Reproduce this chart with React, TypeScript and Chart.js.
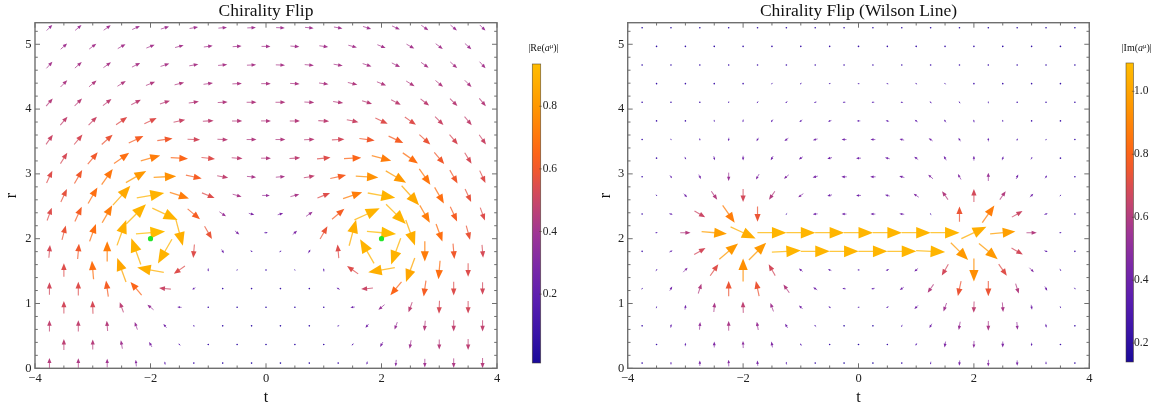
import { useEffect, useRef } from "react";
import { Chart, registerables } from "chart.js";
Chart.register(...registerables);

// ---------- data ----------
const X_TICKS = [-4, -2, 0, 2, 4];
const Y_TICKS = [0, 1, 2, 3, 4, 5];
const CB_TICKS_RE = [0.2, 0.4, 0.6, 0.8];
const CB_TICKS_IM = [0.2, 0.4, 0.6, 0.8, 1.0];

const T_EVEN = [-3.75, -3.25, -2.75, -2.25, -1.75, -1.25, -0.75, -0.25, 0.25, 0.75, 1.25, 1.75, 2.25, 2.75, 3.25, 3.75];
const T_ODD = [-3.5, -3, -2.5, -2, -1.5, -1, -0.5, 0, 0.5, 1, 1.5, 2, 2.5, 3, 3.5];
const R_ROWS = [0.08, 0.3675, 0.655, 0.9425, 1.23, 1.5175, 1.805, 2.0925, 2.38, 2.6675, 2.955, 3.2425, 3.53, 3.8175, 4.105, 4.3925, 4.68, 4.9675, 5.255];

const GREEN_POINTS = [[-2, 2], [2, 2]];

// |Re(a)| field: arrow direction (deg, screen, ccw from +t) and magnitude
const RE_ANGLE = [
  [90, 90, 90, 95, 100, 110, 120, 120, -120, -120, -110, -100, -95, -90, -90, -90],
  [90, 90, 100, 120, 140, 160, 170, 180, -170, -160, -140, -120, -100, -90, -90],
  [90, 90, 95, 110, 130, 160, 180, 180, 180, 180, -160, -130, -110, -95, -90, -90],
  [90, 92, 110, 140, 175, -170, -160, 180, 160, 170, -175, -140, -110, -92, -90],
  [90, 90, 98, 130, 175, -150, -150, -160, 160, 150, 150, -175, -130, -98, -90, -90],
  [90, 95, 110, 170, -145, -95, -120, 180, 120, 95, 145, -170, -110, -95, -90],
  [85, 85, 90, 110, -120, -95, -60, -30, 30, 60, 95, 120, -110, -90, -85, -85],
  [75, 70, 70, 5, -75, -60, -40, 0, 40, 60, 75, -5, -70, -70, -75],
  [70, 65, 60, 45, -25, -40, -35, -15, 15, 35, 40, 25, -45, -60, -65, -70],
  [65, 60, 48, 10, -18, -22, -15, 0, 15, 22, 18, -10, -48, -60, -65],
  [65, 60, 55, 30, 3, -12, -10, -5, 5, 10, 12, -3, -30, -55, -60, -65],
  [58, 50, 35, 15, -3, -6, -4, 0, 4, 6, 3, -15, -35, -50, -58],
  [55, 50, 42, 25, 8, -3, -3, 0, 0, 3, 3, -8, -25, -42, -50, -55],
  [50, 45, 35, 25, 12, 3, 0, 0, 0, -3, -12, -25, -35, -45, -50],
  [50, 45, 38, 28, 18, 8, 3, 0, 0, -3, -8, -18, -28, -38, -45, -50],
  [45, 40, 32, 22, 14, 8, 3, 0, -3, -8, -14, -22, -32, -40, -45],
  [48, 42, 35, 27, 18, 10, 5, 2, -2, -5, -10, -18, -27, -35, -42, -48],
  [42, 37, 30, 22, 15, 8, 4, 0, -4, -8, -15, -22, -30, -37, -42],
  [45, 40, 35, 25, 18, 10, 5, 2, -2, -5, -10, -18, -25, -35, -40, -45],
];
const RE_MAG = [
  [0.45, 0.43, 0.40, 0.33, 0.20, 0.10, 0.05, 0.02, 0.02, 0.05, 0.10, 0.20, 0.33, 0.40, 0.43, 0.45],
  [0.47, 0.45, 0.40, 0.30, 0.18, 0.08, 0.05, 0.03, 0.05, 0.08, 0.18, 0.30, 0.40, 0.45, 0.47],
  [0.48, 0.48, 0.45, 0.38, 0.27, 0.15, 0.07, 0.04, 0.04, 0.07, 0.15, 0.27, 0.38, 0.45, 0.48, 0.48],
  [0.52, 0.53, 0.47, 0.38, 0.25, 0.10, 0.06, 0.05, 0.06, 0.10, 0.25, 0.38, 0.47, 0.53, 0.52],
  [0.52, 0.55, 0.62, 0.65, 0.50, 0.22, 0.10, 0.08, 0.08, 0.10, 0.22, 0.50, 0.65, 0.62, 0.55, 0.52],
  [0.55, 0.68, 0.85, 0.88, 0.55, 0.20, 0.12, 0.10, 0.12, 0.20, 0.55, 0.88, 0.85, 0.68, 0.55],
  [0.53, 0.60, 0.72, 0.90, 0.90, 0.55, 0.25, 0.17, 0.17, 0.25, 0.55, 0.90, 0.90, 0.72, 0.60, 0.53],
  [0.58, 0.68, 0.88, 0.93, 0.88, 0.58, 0.30, 0.22, 0.30, 0.58, 0.88, 0.93, 0.88, 0.68, 0.58],
  [0.55, 0.62, 0.72, 0.90, 0.90, 0.62, 0.38, 0.30, 0.30, 0.38, 0.62, 0.90, 0.90, 0.72, 0.62, 0.55],
  [0.57, 0.68, 0.86, 0.90, 0.72, 0.55, 0.42, 0.37, 0.42, 0.55, 0.72, 0.90, 0.86, 0.68, 0.57],
  [0.55, 0.60, 0.70, 0.80, 0.78, 0.62, 0.48, 0.42, 0.42, 0.48, 0.62, 0.78, 0.80, 0.70, 0.60, 0.55],
  [0.53, 0.60, 0.68, 0.72, 0.65, 0.55, 0.47, 0.44, 0.47, 0.55, 0.65, 0.72, 0.68, 0.60, 0.53],
  [0.50, 0.53, 0.58, 0.62, 0.60, 0.52, 0.46, 0.44, 0.44, 0.46, 0.52, 0.60, 0.62, 0.58, 0.53, 0.50],
  [0.48, 0.50, 0.55, 0.55, 0.50, 0.47, 0.45, 0.44, 0.45, 0.47, 0.50, 0.55, 0.55, 0.50, 0.48],
  [0.45, 0.46, 0.47, 0.47, 0.46, 0.45, 0.44, 0.44, 0.44, 0.44, 0.45, 0.46, 0.47, 0.47, 0.46, 0.45],
  [0.43, 0.44, 0.44, 0.44, 0.44, 0.43, 0.43, 0.43, 0.43, 0.43, 0.44, 0.44, 0.44, 0.44, 0.43],
  [0.41, 0.42, 0.42, 0.42, 0.42, 0.42, 0.42, 0.42, 0.42, 0.42, 0.42, 0.42, 0.42, 0.42, 0.42, 0.41],
  [0.40, 0.41, 0.41, 0.41, 0.41, 0.41, 0.41, 0.41, 0.41, 0.41, 0.41, 0.41, 0.41, 0.41, 0.40],
  [0.38, 0.39, 0.40, 0.40, 0.40, 0.40, 0.40, 0.40, 0.40, 0.40, 0.40, 0.40, 0.40, 0.40, 0.39, 0.38],
];

// |Im(a)| field (Wilson line)
const IM_ANGLE = [
  [88, 90, 90, 92, 95, 100, 110, 150, -150, -110, -100, -95, -92, -90, -90, -88],
  [85, 88, 90, 92, 100, 115, 135, 180, -135, -115, -100, -92, -90, -88, -85],
  [75, 80, 85, 90, 100, 120, 140, 165, -165, -140, -120, -100, -90, -85, -80, -75],
  [70, 80, 85, 92, 110, 135, 155, 180, -155, -135, -110, -92, -85, -80, -70],
  [60, 60, 72, 90, 102, 125, 145, 170, -170, -145, -125, -102, -90, -72, -60, -60],
  [40, 45, 55, 90, 120, 140, 160, 180, -160, -140, -120, -90, -55, -45, -40],
  [20, 25, 30, 40, 45, 3, 0, 0, 0, 0, -3, -45, -40, -30, -25, -20],
  [0, 0, -5, -25, 0, 0, 0, 0, 0, 0, 0, 25, 5, 0, 0],
  [-20, -15, -30, -55, -90, -140, -175, 180, 180, 175, 140, 90, 55, 30, 15, 20],
  [-40, -45, -55, -90, -125, -145, -165, 180, 165, 145, 125, 90, 55, 45, 40],
  [-60, -55, -65, -90, -120, -140, -165, 180, 180, 165, 140, 120, 90, 65, 55, 60],
  [-50, -60, -75, -90, -120, -145, -165, 180, 165, 145, 120, 90, 75, 60, 50],
  [-60, -70, -80, -95, -120, -145, -165, 180, 180, 165, 145, 120, 95, 80, 70, 60],
  [-60, -70, -85, -100, -125, -145, -165, 180, 165, 145, 125, 100, 85, 70, 60],
  [-60, -70, -85, -100, -125, -145, -165, 180, 180, 165, 145, 125, 100, 85, 70, 60],
  [-60, -70, -85, -100, -125, -145, -165, 180, 165, 145, 125, 100, 85, 70, 60],
  [-60, -70, -85, -100, -125, -145, -165, 180, 180, 165, 145, 125, 100, 85, 70, 60],
  [-60, -70, -85, -100, -125, -145, -165, 180, 165, 145, 125, 100, 85, 70, 60],
  [-60, -70, -85, -100, -125, -145, -165, 180, 180, 165, 145, 125, 100, 85, 70, 60],
];
const IM_MAG = [
  [0.24, 0.34, 0.44, 0.48, 0.44, 0.34, 0.24, 0.16, 0.16, 0.24, 0.34, 0.44, 0.48, 0.44, 0.34, 0.24],
  [0.26, 0.36, 0.46, 0.50, 0.46, 0.34, 0.24, 0.19, 0.24, 0.34, 0.46, 0.50, 0.46, 0.36, 0.26],
  [0.26, 0.38, 0.52, 0.58, 0.54, 0.42, 0.32, 0.20, 0.20, 0.32, 0.42, 0.54, 0.58, 0.52, 0.38, 0.26],
  [0.30, 0.42, 0.58, 0.63, 0.56, 0.43, 0.34, 0.30, 0.34, 0.43, 0.56, 0.63, 0.58, 0.42, 0.30],
  [0.30, 0.42, 0.60, 0.74, 0.74, 0.60, 0.42, 0.37, 0.37, 0.42, 0.60, 0.74, 0.74, 0.60, 0.42, 0.30],
  [0.32, 0.47, 0.71, 0.93, 0.68, 0.42, 0.37, 0.32, 0.37, 0.42, 0.68, 0.93, 0.71, 0.47, 0.32],
  [0.26, 0.37, 0.68, 0.96, 0.96, 1.06, 1.06, 1.06, 1.06, 1.06, 1.06, 0.96, 0.96, 0.68, 0.37, 0.26],
  [0.32, 0.60, 0.98, 1.03, 1.06, 1.06, 1.06, 1.06, 1.06, 1.06, 1.06, 1.03, 0.98, 0.60, 0.32],
  [0.26, 0.37, 0.66, 0.88, 0.74, 0.30, 0.42, 0.42, 0.42, 0.42, 0.30, 0.74, 0.88, 0.66, 0.37, 0.26],
  [0.30, 0.42, 0.60, 0.68, 0.60, 0.47, 0.42, 0.42, 0.42, 0.47, 0.60, 0.68, 0.60, 0.42, 0.30],
  [0.26, 0.37, 0.42, 0.54, 0.47, 0.47, 0.44, 0.44, 0.44, 0.44, 0.47, 0.47, 0.54, 0.42, 0.37, 0.26],
  [0.26, 0.34, 0.39, 0.42, 0.42, 0.42, 0.42, 0.42, 0.42, 0.42, 0.42, 0.42, 0.39, 0.34, 0.26],
  [0.26, 0.28, 0.32, 0.37, 0.39, 0.42, 0.42, 0.42, 0.42, 0.42, 0.42, 0.39, 0.37, 0.32, 0.28, 0.26],
  [0.25, 0.27, 0.30, 0.34, 0.36, 0.37, 0.37, 0.37, 0.37, 0.37, 0.36, 0.34, 0.30, 0.27, 0.25],
  [0.24, 0.25, 0.27, 0.30, 0.32, 0.33, 0.33, 0.33, 0.33, 0.33, 0.33, 0.32, 0.30, 0.27, 0.25, 0.24],
  [0.23, 0.24, 0.25, 0.27, 0.29, 0.30, 0.30, 0.30, 0.30, 0.30, 0.29, 0.27, 0.25, 0.24, 0.23],
  [0.22, 0.23, 0.24, 0.25, 0.26, 0.27, 0.27, 0.27, 0.27, 0.27, 0.27, 0.26, 0.25, 0.24, 0.23, 0.22],
  [0.21, 0.22, 0.22, 0.23, 0.24, 0.24, 0.24, 0.24, 0.24, 0.24, 0.24, 0.23, 0.22, 0.22, 0.21],
  [0.19, 0.19, 0.20, 0.20, 0.21, 0.21, 0.21, 0.21, 0.21, 0.21, 0.21, 0.21, 0.20, 0.20, 0.19, 0.19],
];

// ---------- style ----------
const SERIF = "'Liberation Serif', 'DejaVu Serif', 'Times New Roman', serif";
const FRAME = "#6f6f6f";
const COLOR_STOPS: [number, string][] = [
  [0, "#1a0a9a"], [0.1, "#3a14a8"], [0.21, "#5a1db0"], [0.32, "#7a28a8"], [0.43, "#9e3596"],
  [0.53, "#c4456e"], [0.59, "#db4d50"], [0.64, "#ef5730"], [0.7, "#fc6418"], [0.76, "#ff780c"],
  [0.86, "#ff9800"], [0.94, "#ffae00"], [1, "#ffbc00"],
];

function hex(h: string) {
  return [parseInt(h.slice(1, 3), 16), parseInt(h.slice(3, 5), 16), parseInt(h.slice(5, 7), 16)];
}
function ramp(f: number) {
  f = Math.max(0, Math.min(1, f));
  for (let i = 1; i < COLOR_STOPS.length; i++) {
    const [f1, c1] = COLOR_STOPS[i];
    const [f0, c0] = COLOR_STOPS[i - 1];
    if (f <= f1) {
      const u = (f - f0) / (f1 - f0);
      const a = hex(c0), b = hex(c1);
      return `rgb(${Math.round(a[0] + (b[0] - a[0]) * u)},${Math.round(a[1] + (b[1] - a[1]) * u)},${Math.round(a[2] + (b[2] - a[2]) * u)})`;
    }
  }
  return COLOR_STOPS[COLOR_STOPS.length - 1][1];
}

function fmt(v: number) {
  return v < 0 ? "\u2212" + Math.abs(v) : String(v);
}

function drawArrow(ctx: CanvasRenderingContext2D, cx: number, cy: number, ang: number, len: number, color: string) {
  ctx.fillStyle = color;
  ctx.strokeStyle = color;
  if (len < 1.6) {
    ctx.beginPath();
    ctx.arc(cx, cy, 0.8, 0, Math.PI * 2);
    ctx.fill();
    return;
  }
  const a = (ang * Math.PI) / 180;
  const ux = Math.cos(a), uy = -Math.sin(a);
  const x0 = cx - (ux * len) / 2, y0 = cy - (uy * len) / 2;
  const x1 = cx + (ux * len) / 2, y1 = cy + (uy * len) / 2;
  const hl = len < 6 ? len * 0.62 : len * 0.5;
  const hw = hl * 0.4;
  const bx = x1 - ux * hl, by = y1 - uy * hl;
  ctx.lineWidth = Math.min(1.3, 0.7 + len * 0.03);
  ctx.globalAlpha = 0.75;
  ctx.beginPath();
  ctx.moveTo(x0, y0);
  ctx.lineTo(bx + ux * 0.8, by + uy * 0.8);
  ctx.stroke();
  ctx.globalAlpha = 1;
  ctx.beginPath();
  ctx.moveTo(x1, y1);
  ctx.lineTo(bx - uy * hw, by + ux * hw);
  ctx.lineTo(bx + uy * hw, by - ux * hw);
  ctx.closePath();
  ctx.fill();
}

type Spec = {
  title: string;
  part: string;
  angles: number[][];
  mags: number[][];
  vmin: number;
  vmax: number;
  cbMin: number;
  cbMax: number;
  cbTicks: number[];
  points: number[][];
  left: number;
  width: number;
  yAxisWidth: number;
  cbAxisWidth: number;
  cbLabelPad: number;
  barOffset: number;
  barWidth: number;
  arrowLen: number;
  rPad: number;
};

const SPECS: Spec[] = [
  {
    title: "Chirality Flip", part: "Re", angles: RE_ANGLE, mags: RE_MAG,
    vmin: -0.02, vmax: 0.935, cbMin: -0.0369, cbMax: 1.0669, cbTicks: CB_TICKS_RE, points: GREEN_POINTS,
    left: 0, width: 581, yAxisWidth: 35, cbAxisWidth: 84, cbLabelPad: 45.7, barOffset: 35.3, barWidth: 8.4,
    arrowLen: 29.5, rPad: 2.5,
  },
  {
    title: "Chirality Flip (Wilson Line)", part: "Im", angles: IM_ANGLE, mags: IM_MAG,
    vmin: 0.14, vmax: 1.09, cbMin: 0.12, cbMax: 1.218, cbTicks: CB_TICKS_IM, points: [],
    left: 581, width: 582, yAxisWidth: 46.7, cbAxisWidth: 73.7, cbLabelPad: 44.7, barOffset: 36.7, barWidth: 7.4,
    arrowLen: 30.5, rPad: 15.5,
  },
];

function fieldPlugin(spec: Spec) {
  return {
    id: "field" + spec.part,
    beforeDatasetsDraw(chart: any) {
      const { ctx, chartArea } = chart;
      const xs = chart.scales.x, ys = chart.scales.y;
      ctx.save();
      ctx.beginPath();
      ctx.rect(chartArea.left, chartArea.top, chartArea.right - chartArea.left, chartArea.bottom - chartArea.top);
      ctx.clip();
      R_ROWS.forEach((r, k) => {
        const ts = k % 2 === 0 ? T_EVEN : T_ODD;
        ts.forEach((t, j) => {
          const v = spec.mags[k][j];
          const f = Math.max(0, Math.min(1, (v - spec.vmin) / (spec.vmax - spec.vmin)));
          const len = spec.arrowLen * Math.pow(f, 1.5);
          drawArrow(ctx, xs.getPixelForValue(t), ys.getPixelForValue(r), spec.angles[k][j], len, ramp(f));
        });
      });
      ctx.restore();
    },
    afterDraw(chart: any) {
      const { ctx, chartArea } = chart;
      const xs = chart.scales.x, ys = chart.scales.y, cb = chart.scales.cb;
      const { left, right, top, bottom } = chartArea;
      ctx.save();
      // frame
      ctx.strokeStyle = FRAME;
      ctx.lineWidth = 1.4;
      ctx.strokeRect(left, top, right - left, bottom - top);
      ctx.lineWidth = 1;
      ctx.beginPath();
      for (let t = -4; t <= 4.0001; t += 0.5) {
        const major = X_TICKS.some((m) => Math.abs(m - t) < 1e-6);
        const L = major ? 5 : 2.8;
        const x = xs.getPixelForValue(t);
        ctx.moveTo(x, bottom); ctx.lineTo(x, bottom - L);
        ctx.moveTo(x, top); ctx.lineTo(x, top + L);
      }
      for (let r = 0; r <= 5.34; r += 0.2) {
        const major = Y_TICKS.some((m) => Math.abs(m - r) < 1e-6);
        const L = major ? 5 : 2.8;
        const y = ys.getPixelForValue(r);
        ctx.moveTo(left, y); ctx.lineTo(left + L, y);
        ctx.moveTo(right, y); ctx.lineTo(right - L, y);
      }
      ctx.stroke();
      // colorbar
      const bx = right + spec.barOffset;
      const yTop = cb.getPixelForValue(spec.vmax);
      const yBot = cb.getPixelForValue(spec.vmin);
      const g = ctx.createLinearGradient(0, yBot, 0, yTop);
      COLOR_STOPS.forEach(([f, c]) => g.addColorStop(f, c));
      ctx.fillStyle = g;
      ctx.fillRect(bx, yTop, spec.barWidth, yBot - yTop);
      ctx.strokeStyle = "rgba(70,60,40,0.75)";
      ctx.lineWidth = 0.7;
      ctx.strokeRect(bx, yTop, spec.barWidth, yBot - yTop);
      ctx.beginPath();
      spec.cbTicks.forEach((v) => {
        const y = cb.getPixelForValue(v);
        ctx.moveTo(bx + spec.barWidth - 1.5, y);
        ctx.lineTo(bx + spec.barWidth + 1.2, y);
      });
      ctx.stroke();
      // colorbar label |Re(a^mu)|
      const pieces: [string, string, number][] = [
        ["|" + spec.part + "(", `10px ${SERIF}`, 0],
        ["a", `italic 10px ${SERIF}`, 0],
        ["\u03bc", `6.5px ${SERIF}`, -3.5],
        [")|", `10px ${SERIF}`, 0],
      ];
      let total = 0;
      pieces.forEach(([s, f]) => { ctx.font = f; total += ctx.measureText(s).width; });
      let x = bx + spec.barWidth / 2 + 7 - total / 2;
      ctx.fillStyle = "#111";
      ctx.textBaseline = "alphabetic";
      ctx.textAlign = "left";
      pieces.forEach(([s, f, dy]) => {
        ctx.font = f;
        ctx.fillText(s, x, 51 + dy);
        x += ctx.measureText(s).width;
      });
      ctx.restore();
    },
  };
}

function makeConfig(spec: Spec): any {
  return {
    type: "scatter",
    data: {
      datasets: [
        {
          data: spec.points.map(([x, y]) => ({ x, y })),
          pointRadius: 2.6,
          pointHoverRadius: 2.6,
          backgroundColor: "#22e62a",
          borderWidth: 0,
        },
      ],
    },
    options: {
      responsive: false,
      animation: false,
      events: [],
      layout: { padding: 0 },
      plugins: {
        legend: { display: false },
        tooltip: { enabled: false },
        title: {
          display: true,
          text: spec.title,
          fullSize: false,
          color: "#111",
          font: { family: SERIF, size: 17.5, weight: "normal", lineHeight: 1.2 },
          padding: { top: 0.5, bottom: 1.2 },
        },
      },
      scales: {
        x: {
          type: "linear",
          position: "bottom",
          min: -4,
          max: 4,
          grid: { display: false, drawTicks: false },
          border: { display: false },
          afterBuildTicks: (s: any) => { s.ticks = X_TICKS.map((v) => ({ value: v })); },
          afterFit: (s: any) => { s.height = 39.7; },
          ticks: {
            color: "#222",
            font: { family: SERIF, size: 12.5 },
            padding: 3,
            maxRotation: 0,
            autoSkip: false,
            callback: (v: number) => fmt(v),
          },
          title: {
            display: true,
            text: "t",
            color: "#111",
            font: { family: SERIF, size: 16, lineHeight: 1.2 },
            padding: { top: 0, bottom: 1 },
          },
        },
        y: {
          type: "linear",
          position: "left",
          min: 0,
          max: 5.333,
          grid: { display: false, drawTicks: false },
          border: { display: false },
          afterBuildTicks: (s: any) => { s.ticks = Y_TICKS.map((v) => ({ value: v })); },
          afterFit: (s: any) => { s.width = spec.yAxisWidth; },
          ticks: {
            color: "#222",
            font: { family: SERIF, size: 12.5 },
            padding: 3.5,
            autoSkip: false,
            callback: (v: number) => fmt(v),
          },
          title: {
            display: true,
            text: "r",
            color: "#111",
            font: { family: SERIF, size: 16, lineHeight: 1.2 },
            padding: { top: spec.rPad, bottom: 0 },
          },
        },
        cb: {
          type: "linear",
          position: "right",
          axis: "y",
          min: spec.cbMin,
          max: spec.cbMax,
          grid: { display: false, drawTicks: true, tickLength: spec.cbLabelPad },
          border: { display: false },
          afterBuildTicks: (s: any) => { s.ticks = spec.cbTicks.map((v) => ({ value: v })); },
          afterFit: (s: any) => { s.width = spec.cbAxisWidth; },
          ticks: {
            color: "#222",
            font: { family: SERIF, size: 11.5 },
            padding: 0,
            autoSkip: false,
            callback: (v: number) => v.toFixed(1),
          },
        },
      },
    },
    plugins: [fieldPlugin(spec)],
  };
}

function FieldChart({ spec }: { spec: Spec }) {
  const ref = useRef<HTMLCanvasElement | null>(null);
  useEffect(() => {
    if (!ref.current) return;
    const chart = new Chart(ref.current, makeConfig(spec));
    return () => chart.destroy();
  }, [spec]);
  return (
    <canvas
      ref={ref}
      width={spec.width}
      height={408}
      style={{ position: "absolute", left: spec.left, top: 0, width: spec.width, height: 408 }}
    />
  );
}

export default function App() {
  useEffect(() => {
    document.body.style.margin = "0";
    document.body.style.background = "#ffffff";
  }, []);
  return (
    <div style={{ position: "relative", width: 1163, height: 408, background: "#fff", overflow: "hidden" }}>
      {SPECS.map((s) => (
        <FieldChart key={s.part} spec={s} />
      ))}
    </div>
  );
}
